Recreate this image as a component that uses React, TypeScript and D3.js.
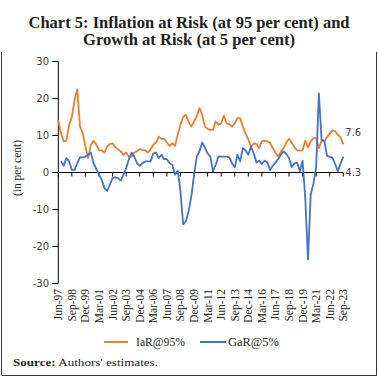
import React from "react";
import * as d3 from "d3";

const iarValues: number[] = [
  14.2, 10.5, 8.4, 8.6, 12.9, 15, 19.6, 22.5, 12.4, 10.6,
  7, 3.9, 7.5, 8.6, 7.5, 6, 6, 5.4, 7, 7.7,
  7.9, 6.8, 6.3, 5.7, 4.8, 5.4, 4.3, 4.3, 5.4, 5.7,
  6.3, 6.1, 6, 5.4, 6.3, 7.5, 8.1, 9.7, 9.1, 9.1,
  8.1, 7.2, 7.9, 7.2, 10.2, 12.9, 15, 15.6, 13.8, 12.4,
  13.8, 15.1, 17.4, 15.6, 12.4, 11.8, 11.5, 11.5, 13.8, 12.9,
  13.3, 15.3, 13.3, 13.1, 12.4, 13.3, 14.7, 14.7, 12.4, 10.5,
  9, 6.8, 7.9, 7.7, 6.6, 8.4, 8.6, 8.4, 8.1, 6.6,
  5.4, 4.3, 5.6, 6.6, 8.1, 9.1, 8.1, 6.8, 6, 5.9,
  6, 8.6, 6.8, 8.4, 9.3, 9.3, 6.6, 8.6, 8.4, 9.5,
  10.5, 11.4, 11.1, 10.2, 9.5, 7.6,
];

const garValues: (number | null)[] = [
  null, 3.0, 1.8, 3.9, 3.0, 0.7, 0.7, 2.5, 4.1, 4.1,
  4.3, 4.8, 5.4, 2.5, 0.9, -0.6, -2, -4.2, -5, -3.3,
  -1.5, -1.3, -1.5, -2.2, -0.6, 1.2, 3.6, 5.4, 4.3, 2.5,
  1.8, 2.5, 3, 3, 3, 5.2, 5.4, 3.9, 4.8, 3.6,
  3.6, 2.5, 2.1, -0.6, 0.5, -5, -14, -13.2, -10.5, -6.5,
  -0.8, 4.3, 5.7, 8.1, 6.8, 5.2, 4.3, 0.3, 2.1, 4.3,
  4.3, 4.3, 4.3, 4.1, 2.5, 1.4, 4.8, 3, 6.6, 6.0,
  4.8, 7, 5.2, 2.7, 3.2, 2.3, 3.2, 2.7, 0.7, 1.8,
  2.7, 3.6, 4.8, 5.7, 5, 3.9, 1.4, 2.5, 2.7, 0.3,
  3.2, -7, -23.5, -6, -3, 1.5, 21.4, 8.8, 8.6, 4.5,
  4.2, 4.0, 2.3, 0.3, 2.5, 4.3,
];

const tickLabels: string[] = [
  "Jun-97", "Sep-98", "Dec-99", "Mar-01", "Jun-02", "Sep-03", "Dec-04", "Mar-06",
  "Jun-07", "Sep-08", "Dec-09", "Mar-11", "Jun-12", "Sep-13", "Dec-14", "Mar-16",
  "Jun-17", "Sep-18", "Dec-19", "Mar-21", "Jun-22", "Sep-23",
];

const yTicks: number[] = [30, 20, 10, 0, -10, -20, -30];

const seriesNames: string[] = ["IaR@95%", "GaR@5%"];
const seriesColors: string[] = ["#ED7D31", "#4472C4"];

const fmt = d3.timeFormat("%b-%y");
const categories: string[] = d3
  .timeMonths(new Date(1997, 5, 1), new Date(2023, 9, 1), 3)
  .map((d) => fmt(d));

export default function App() {
  const W = 378;
  const H = 378;
  const x = d3.scalePoint<string>().domain(categories).range([58.3, 343.3]);
  const y = d3.scaleLinear().domain([-30, 30]).range([283.5, 61.5]);
  const y0 = y(0);

  const line = d3
    .line<number | null>()
    .defined((d) => d !== null)
    .x((_, i) => x(categories[i]) as number)
    .y((d) => y(d as number));

  const serif = "'Liberation Serif', 'Times New Roman', serif";
  const sans = "'DejaVu Sans', Verdana, sans-serif";
  const lastI = categories.length - 1;

  return (
    <svg
      width={W}
      height={H}
      style={{ position: "absolute", left: 0, top: 0, background: "#fff" }}
      xmlns="http://www.w3.org/2000/svg"
    >
      <rect x={0} y={0} width={W} height={H} fill="#fff" />
      {/* frame */}
      <path d={`M1.5,52 V375.5 H376.5 V52`} fill="none" stroke="#333" strokeWidth={1} />

      {/* title */}
      <text x={189} y={27.5} textAnchor="middle" fontFamily={serif} fontWeight="bold" fontSize={16.5} fill="#231f20" textLength={321} lengthAdjust="spacingAndGlyphs">
        Chart 5: Inflation at Risk (at 95 per cent) and
      </text>
      <text x={189} y={45} textAnchor="middle" fontFamily={serif} fontWeight="bold" fontSize={16.5} fill="#231f20" textLength={212} lengthAdjust="spacingAndGlyphs">
        Growth at Risk (at 5 per cent)
      </text>

      {/* y axis */}
      <line x1={58.3} x2={58.3} y1={y(30)} y2={y(-30)} stroke="#000" strokeWidth={1} />
      {yTicks.map((t) => (
        <g key={t}>
          <line x1={52.3} x2={58.3} y1={y(t)} y2={y(t)} stroke="#000" strokeWidth={1} />
          <text x={49} y={y(t)} dy="0.35em" textAnchor="end" fontFamily={sans} fontSize={10} fill="#404040">
            {t}
          </text>
        </g>
      ))}
      <text
        transform={`translate(20.5,168) rotate(-90)`}
        textAnchor="middle"
        fontFamily={serif}
        fontSize={11.5}
        fill="#231f20"
      >
        (in per cent)
      </text>

      {/* x axis at zero */}
      <line x1={58.3} x2={343.3} y1={y0} y2={y0} stroke="#000" strokeWidth={1} />
      {tickLabels.map((lab) => {
        const xx = x(lab) as number;
        return (
          <g key={lab}>
            <line x1={xx} x2={xx} y1={y0} y2={y0 + 4} stroke="#000" strokeWidth={1} />
            <text
              transform={`translate(${xx},289) rotate(-90)`}
              dy="0.35em"
              textAnchor="end"
              fontFamily={serif}
              fontSize={11.5}
              fill="#231f20"
            >
              {lab}
            </text>
          </g>
        );
      })}

      {/* series */}
      <path d={line(iarValues) || ""} fill="none" stroke={seriesColors[0]} strokeWidth={1.8} strokeLinejoin="round" />
      <path d={line(garValues) || ""} fill="none" stroke={seriesColors[1]} strokeWidth={1.8} strokeLinejoin="round" />

      {/* end labels */}
      <text x={(x(categories[lastI]) as number) + 2} y={y(iarValues[lastI]) - 12} dy="0.35em" fontFamily={sans} fontSize={10} fill="#404040">
        {iarValues[lastI].toFixed(1)}
      </text>
      <text x={(x(categories[lastI]) as number) + 2} y={y0} dy="0.35em" fontFamily={sans} fontSize={10} fill="#404040">
        {(garValues[lastI] as number).toFixed(1)}
      </text>

      {/* legend */}
      <line x1={104} x2={128} y1={342} y2={342} stroke={seriesColors[0]} strokeWidth={2} />
      <text x={136} y={342} dy="0.35em" fontFamily={serif} fontSize={12} fill="#231f20" textLength={49} lengthAdjust="spacingAndGlyphs">
        {seriesNames[0]}
      </text>
      <line x1={200} x2={226} y1={342} y2={342} stroke={seriesColors[1]} strokeWidth={2} />
      <text x={228} y={342} dy="0.35em" fontFamily={serif} fontSize={12} fill="#231f20" textLength={51} lengthAdjust="spacingAndGlyphs">
        {seriesNames[1]}
      </text>

      {/* source */}
      <text x={13} y={366} fontFamily={serif} fontSize={11} fill="#231f20" textLength={145} lengthAdjust="spacingAndGlyphs">
        <tspan fontWeight="bold">Source:</tspan>
        <tspan> Authors' estimates.</tspan>
      </text>
    </svg>
  );
}
